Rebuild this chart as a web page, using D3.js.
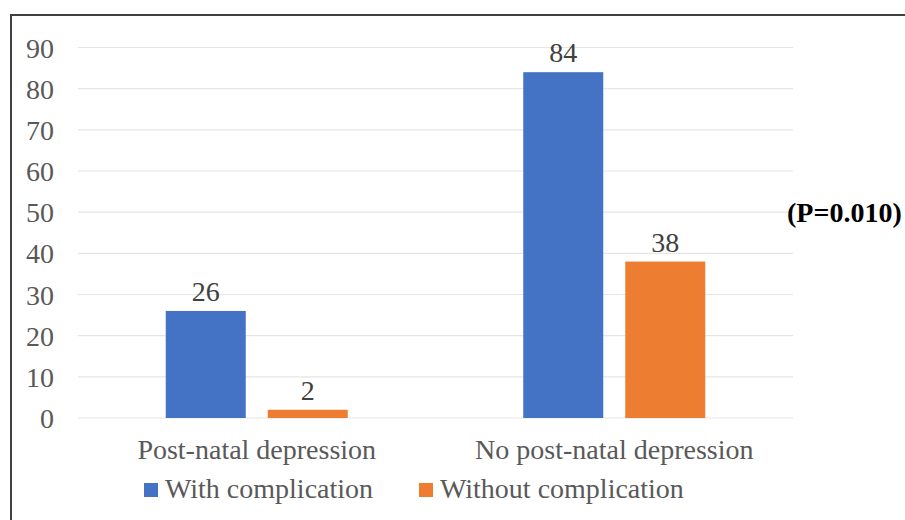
<!DOCTYPE html>
<html>
<head>
<meta charset="utf-8">
<script src="https://cdn.jsdelivr.net/npm/d3@7"></script>
<style>
  html, body { margin: 0; padding: 0; background: #fff; }
  svg { display: block; }
</style>
</head>
<body>
<svg id="chart" width="905" height="520"></svg>
<script>
// Groups along the x axis
const categories = ["Post-natal depression", "No post-natal depression"];
// Series names and counts per group
const seriesNames = ["With complication", "Without complication"];
const withComplication = [26, 84];
const withoutComplication = [2, 38];
const seriesColors = ["#4472C4", "#ED7D31"];
const yTicks = [0, 10, 20, 30, 40, 50, 60, 70, 80, 90];
const pLabel = "(P=0.010)";

const svg = d3.select("#chart");
const font = "'Liberation Serif', 'Times New Roman', serif";
const textGrey = "#595959";
const fs = 28;

// Frame: top and left edges of the box
svg.append("line").attr("x1", 10).attr("x2", 905).attr("y1", 15).attr("y2", 15)
  .attr("stroke", "#404040").attr("stroke-width", 2);
svg.append("line").attr("x1", 11).attr("x2", 11).attr("y1", 14).attr("y2", 520)
  .attr("stroke", "#404040").attr("stroke-width", 2);

const plot = { left: 78, right: 793, top: 47.5, bottom: 418 };

const x0 = d3.scaleBand().domain(categories).range([plot.left, plot.right]);
const y = d3.scaleLinear().domain([0, 90]).range([plot.bottom, plot.top]);

// Gridlines
svg.append("g").selectAll("line").data(yTicks).join("line")
  .attr("x1", plot.left).attr("x2", plot.right)
  .attr("y1", d => y(d)).attr("y2", d => y(d))
  .attr("stroke", "#e6e6e6").attr("stroke-width", 1.2);

// Y axis labels
const yAxis = d3.axisLeft(y).tickValues(yTicks).tickSize(0).tickPadding(0);
const yg = svg.append("g").attr("transform", "translate(54,0)").call(yAxis);
yg.select(".domain").remove();
yg.selectAll("text").attr("font-family", font).attr("font-size", fs)
  .attr("fill", textGrey).attr("text-anchor", "end").attr("dy", "0.34em");

// X axis labels
const xAxis = d3.axisBottom(x0).tickSize(0).tickPadding(0);
const xg = svg.append("g").attr("transform", `translate(0,${plot.bottom})`).call(xAxis);
xg.select(".domain").remove();
xg.selectAll("text").attr("font-family", font).attr("font-size", fs)
  .attr("fill", textGrey).attr("y", 41).attr("dy", null);

// Bars
const barW = 80, gap = 22;
const x1 = d3.scaleOrdinal().domain(seriesNames)
  .range([-(barW + gap) / 2, (barW + gap) / 2]);

const rows = categories.map((c, i) => ({
  cat: c,
  vals: [
    { s: seriesNames[0], v: withComplication[i] },
    { s: seriesNames[1], v: withoutComplication[i] }
  ]
}));

const groups = svg.append("g").selectAll("g").data(rows).join("g")
  .attr("transform", d => `translate(${x0(d.cat) + x0.bandwidth() / 2},0)`);

groups.selectAll("rect").data(d => d.vals).join("rect")
  .attr("x", d => x1(d.s) - barW / 2)
  .attr("width", barW)
  .attr("y", d => y(d.v))
  .attr("height", d => y(0) - y(d.v))
  .attr("fill", (d, i) => seriesColors[i]);

groups.selectAll("text").data(d => d.vals).join("text")
  .attr("x", d => x1(d.s))
  .attr("y", d => y(d.v) - 10)
  .attr("text-anchor", "middle")
  .attr("font-family", font).attr("font-size", fs)
  .attr("fill", "#404040")
  .text(d => d.v);

// P-value annotation
svg.append("text").attr("x", 787).attr("y", 222)
  .attr("font-family", font).attr("font-size", fs).attr("font-weight", "bold")
  .attr("fill", "#000").text(pLabel);

// Legend
const legendX = [144, 419];
const legend = svg.append("g").selectAll("g").data(seriesNames).join("g")
  .attr("transform", (d, i) => `translate(${legendX[i]},483)`);
legend.append("rect").attr("width", 14).attr("height", 14)
  .attr("fill", (d, i) => seriesColors[i]);
legend.append("text").attr("x", 21).attr("y", 15)
  .attr("font-family", font).attr("font-size", fs).attr("fill", textGrey)
  .text(d => d);
</script>
</body>
</html>
